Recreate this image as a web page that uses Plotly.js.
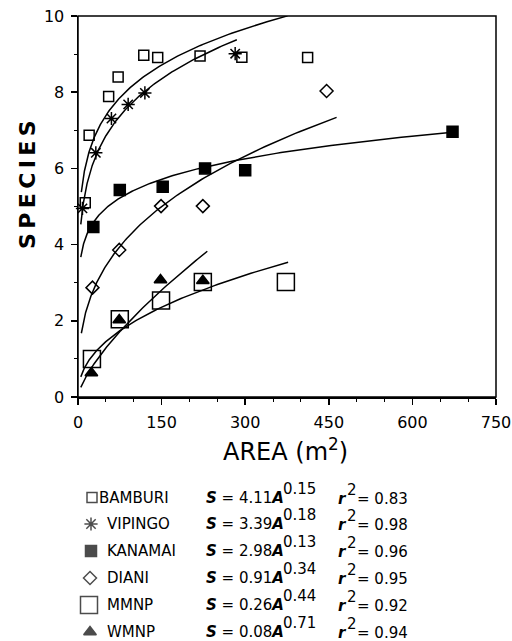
<!DOCTYPE html>
<html><head><meta charset="utf-8">
<script src="https://cdn.plot.ly/plotly-3.0.1.min.js"></script>
<style>html,body{margin:0;padding:0;background:#fff}#chart{width:512px;height:641px}</style>
</head><body><div id="chart"></div>
<script>
// ---- data ----
const siteNames = ['BAMBURI', 'VIPINGO', 'KANAMAI', 'DIANI', 'MMNP', 'WMNP'];

const areaBamburi = [13, 20, 55, 72, 118, 143, 219, 294, 412];
const spBamburi   = [5.1, 6.87, 7.89, 8.40, 8.97, 8.91, 8.95, 8.92, 8.91];
const areaVipingo = [8, 32, 60, 90, 120, 282];
const spVipingo   = [4.95, 6.41, 7.31, 7.68, 7.98, 9.01];
const areaKanamai = [27.5, 75, 152, 228, 300, 672];
const spKanamai   = [4.46, 5.43, 5.52, 6.0, 5.95, 6.96];
const areaDiani   = [26, 74, 149, 224, 446];
const spDiani     = [2.87, 3.86, 5.01, 5.01, 8.03];
const areaMMNP    = [25, 75, 149, 224, 373];
const spMMNP      = [1.0, 2.04, 2.53, 3.02, 3.02];
const areaWMNP    = [24, 74, 148, 224];
const spWMNP      = [0.63, 2.02, 3.07, 3.05];

// fitted power curves S = a * A^b (from legend) and drawn extent of each line
const fitCoef  = [4.11, 3.39, 2.98, 0.91, 0.26, 0.08];
const fitExp   = [0.15, 0.18, 0.13, 0.34, 0.44, 0.71];
const fitR2    = [0.83, 0.98, 0.96, 0.95, 0.92, 0.94];
const fitStart = [6, 5, 5, 6, 5, 5];
const fitEnd   = [376, 285, 672, 464, 377, 232];

const xTickVals = [0, 150, 300, 450, 600, 750];
const yTickVals = [0, 2, 4, 6, 8, 10];

// ---- layout geometry (page pixels) ----
const W = 512, H = 641, ML = 78, MR = 16, MT = 16;
const plotBottom = 397;
const areaH = H - MT;
const mainBottom = (H - plotBottom) / areaH;
const legTop = 0.3;
const legX0 = ML, legX1 = W - MR;
const legY0 = H, legY1 = H - legTop * areaH;

const pointsX = [areaBamburi, areaVipingo, areaKanamai, areaDiani, areaMMNP, areaWMNP];
const pointsY = [spBamburi, spVipingo, spKanamai, spDiani, spMMNP, spWMNP];
const symbols = ['square-open', 'asterisk-open', 'square', 'diamond-open', 'square-open', 'triangle-up'];
const sizes   = [10, 11, 11, 10, 17, 11];

const traces = [];
// fit curves
for (let i = 0; i < fitCoef.length; i++) {
  const xs = [], ys = [];
  const n = 200;
  const l0 = Math.log(fitStart[i]), l1 = Math.log(fitEnd[i]);
  for (let k = 0; k <= n; k++) {
    const a = Math.exp(l0 + (l1 - l0) * k / n);
    xs.push(a); ys.push(fitCoef[i] * Math.pow(a, fitExp[i]));
  }
  traces.push({x: xs, y: ys, mode: 'lines', line: {color: '#000', width: 1.5},
               hoverinfo: 'skip', showlegend: false, xaxis: 'x', yaxis: 'y'});
}
// points
for (let i = 0; i < pointsX.length; i++) {
  traces.push({x: pointsX[i], y: pointsY[i], mode: 'markers', name: siteNames[i],
    marker: {symbol: symbols[i], size: sizes[i], color: '#000',
             line: {color: '#000', width: 1.5}},
    showlegend: false, cliponaxis: false, xaxis: 'x', yaxis: 'y'});
}

// custom legend block
const rowY = [497.5, 524, 551, 578, 605, 632];
const symX = [92, 91, 91, 90, 89, 90];
traces.push({x: symX, y: rowY, mode: 'markers',
  marker: {symbol: symbols, size: sizes, color: '#000', line: {color: '#000', width: 1.5}},
  showlegend: false, cliponaxis: false, hoverinfo: 'skip', xaxis: 'x2', yaxis: 'y2'});

const F = 'DejaVu Sans, Arial, sans-serif';
const annotations = [];
function ann(x, y, text, size, extra) {
  annotations.push(Object.assign({x: x, y: y, xref: 'x2', yref: 'y2', text: text,
    showarrow: false, xanchor: 'left', yanchor: 'middle',
    font: {family: F, size: size, color: '#000'}}, extra || {}));
}
for (let i = 0; i < siteNames.length; i++) {
  const y = rowY[i];
  ann(i === 0 ? 97 : 105, y, siteNames[i], 15);
  ann(204, y, '<b><i>S</i></b> = ' + fitCoef[i].toFixed(2) + '<b><i>A</i></b>', 15);
  ann(281, y - 9, fitExp[i].toFixed(2), 15);
  ann(336, y + 1, '<b><i>r</i></b>', 15);
  ann(345, y - 8, '2', 15);
  ann(355, y + 1, '= ' + fitR2[i].toFixed(2), 15);
}
// axis titles
annotations.push({x: (285 - ML) / (W - ML - MR), y: (H - 450) / areaH, xref: 'paper', yref: 'paper',
  text: 'AREA (m<sup>2</sup>)', showarrow: false, xanchor: 'center', yanchor: 'middle',
  font: {family: F, size: 24, color: '#000'}});
annotations.push({x: (28 - ML) / (W - ML - MR), y: (H - 185) / areaH, xref: 'paper', yref: 'paper',
  text: '<b>S\u2009P\u2009E\u2009C\u2009I\u2009E\u2009S</b>', textangle: -90, showarrow: false,
  xanchor: 'center', yanchor: 'middle', font: {family: F, size: 22, color: '#000'}});

const layout = {
  width: W, height: H,
  margin: {l: ML, r: MR, t: MT, b: 0, pad: 0},
  paper_bgcolor: '#fff', plot_bgcolor: '#fff',
  showlegend: false,
  xaxis: {domain: [0, 1], range: [0, 750], anchor: 'y',
    tickmode: 'array', tickvals: xTickVals, ticktext: xTickVals.map(String),
    ticks: 'outside', ticklen: 6, tickwidth: 1.5, tickcolor: '#000',
    minor: {dtick: 50, tick0: 0, ticks: 'outside', ticklen: 3, tickwidth: 1, tickcolor: '#000', showgrid: false},
    showline: true, linecolor: '#000', linewidth: 1.5,
    showgrid: false, zeroline: false, ticklabelstandoff: 4,
    tickfont: {family: F, size: 16, color: '#000'}},
  yaxis: {domain: [mainBottom, 1], range: [0, 10], anchor: 'x',
    tickmode: 'array', tickvals: yTickVals, ticktext: yTickVals.map(String),
    ticks: 'outside', ticklen: 6, tickwidth: 1.5, tickcolor: '#000',
    minor: {dtick: 1, tick0: 0, ticks: 'outside', ticklen: 3, tickwidth: 1, tickcolor: '#000', showgrid: false},
    showline: true, linecolor: '#000', linewidth: 1.5,
    showgrid: false, zeroline: false, ticklabelstandoff: 3,
    tickfont: {family: F, size: 16, color: '#000'}},
  xaxis2: {domain: [0, 1], range: [legX0, legX1], anchor: 'y2', visible: false, fixedrange: true},
  yaxis2: {domain: [0, legTop], range: [legY0, legY1], anchor: 'x2', visible: false, fixedrange: true},
  shapes: [{type: 'rect', xref: 'x domain', yref: 'y domain', x0: 0, x1: 1, y0: 0, y1: 1,
            line: {color: '#000', width: 1.5}, fillcolor: 'rgba(0,0,0,0)', layer: 'above'}],
  annotations: annotations
};

Plotly.newPlot('chart', traces, layout, {displayModeBar: false, staticPlot: true});
</script>
</body></html>
